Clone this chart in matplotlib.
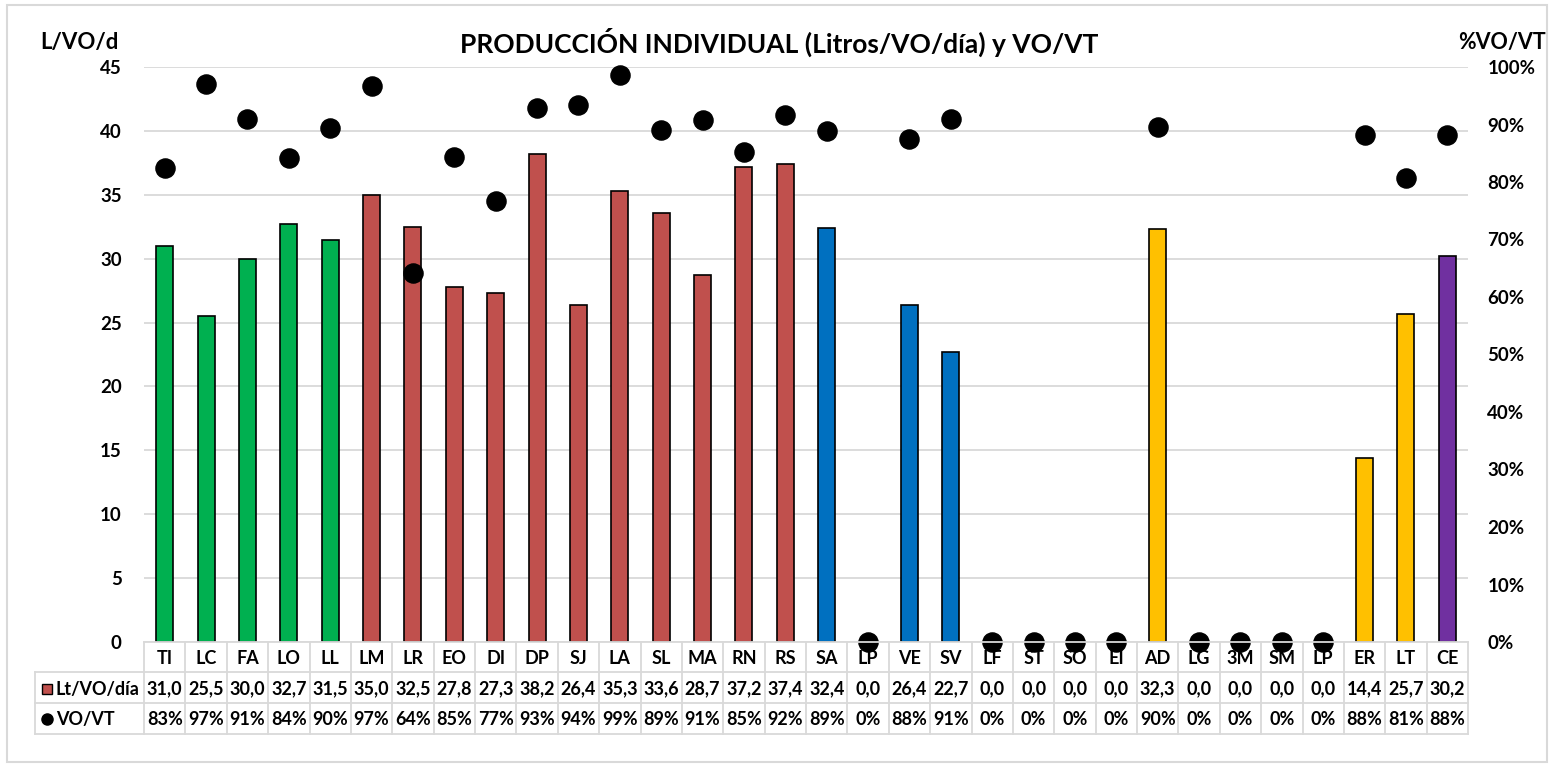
import matplotlib
matplotlib.use("Agg")
import matplotlib.pyplot as plt
from matplotlib.patches import Rectangle
from matplotlib.lines import Line2D
import numpy as np

categories = ["TI", "LC", "FA", "LO", "LL", "LM", "LR", "EO", "DI", "DP", "SJ", "LA", "SL", "MA",
              "RN", "RS", "SA", "LP", "VE", "SV", "LF", "ST", "SO", "EI", "AD", "LG", "3M", "SM",
              "LP", "ER", "LT", "CE"]
litros = [31.0, 25.5, 30.0, 32.7, 31.5, 35.0, 32.5, 27.8, 27.3, 38.2, 26.4, 35.3, 33.6, 28.7,
          37.2, 37.4, 32.4, 0.0, 26.4, 22.7, 0.0, 0.0, 0.0, 0.0, 32.3, 0.0, 0.0, 0.0,
          0.0, 14.4, 25.7, 30.2]
vo_vt = [0.824, 0.970, 0.910, 0.842, 0.894, 0.967, 0.642, 0.843, 0.767, 0.929, 0.934, 0.986,
         0.890, 0.908, 0.852, 0.917, 0.889, 0.0, 0.875, 0.910, 0.0, 0.0, 0.0, 0.0, 0.896,
         0.0, 0.0, 0.0, 0.0, 0.882, 0.807, 0.882]
vo_vt_labels = ["83%", "97%", "91%", "84%", "90%", "97%", "64%", "85%", "77%", "93%", "94%",
                "99%", "89%", "91%", "85%", "92%", "89%", "0%", "88%", "91%", "0%", "0%", "0%",
                "0%", "90%", "0%", "0%", "0%", "0%", "88%", "81%", "88%"]
groups = ["g"] * 5 + ["r"] * 11 + ["b"] * 4 + ["b"] * 4 + ["y"] + ["y"] * 4 + ["y", "y"] + ["p"]
palette = {"g": "#00B050", "r": "#C0504D", "b": "#0070C0", "y": "#FFC000", "p": "#7030A0"}
left_ticks = list(range(0, 50, 5))
right_ticks = [i / 10 for i in range(11)]

W, H = 1552, 770
FONT = "Lato"
plt.rcParams["font.family"] = [FONT, "DejaVu Sans"]
fig = plt.figure(figsize=(W / 100, H / 100), dpi=100)

def fx(px):
    return px / W

def fy(py):
    return 1 - py / H

ax_l, ax_r, ax_t, ax_b = 144, 1468, 67, 642
ax = fig.add_axes([fx(ax_l), fy(ax_b), fx(ax_r - ax_l), fy(ax_t) - fy(ax_b)])
n = len(categories)
x = np.arange(n)
ax.bar(x, litros, width=0.41, color=[palette[g] for g in groups], edgecolor="black",
       linewidth=1.2, zorder=3)
ax.set_xlim(-0.5, n - 0.5)
ax.set_ylim(0, 45)
ax.set_yticks(left_ticks)
ax.set_xticks([])
ax.grid(axis="y", color="#D9D9D9", linewidth=1.3, zorder=0)
for s in ax.spines.values():
    s.set_visible(False)
ax.tick_params(axis="y", length=0, pad=16, labelsize=13.5)
for lbl in ax.get_yticklabels():
    lbl.set_fontweight("bold")

ax2 = ax.twinx()
ax2.set_ylim(0, 1)
ax2.scatter(x, vo_vt, s=190, color="black", zorder=5, clip_on=False)
ax2.set_yticks(right_ticks)
ax2.set_yticklabels([f"{int(round(t * 100))}%" for t in right_ticks])
ax2.tick_params(axis="y", length=0, pad=14, labelsize=13.5)
for lbl in ax2.get_yticklabels():
    lbl.set_fontweight("bold")
for s in ax2.spines.values():
    s.set_visible(False)
ax2.set_xticks([])

# Titles
fig.text(fx(779), fy(42), "PRODUCCIÓN INDIVIDUAL (Litros/VO/día) y VO/VT", ha="center",
         va="center", fontsize=19, fontweight="bold")
fig.text(fx(79), fy(42), "L/VO/d", ha="center", va="center", fontsize=16, fontweight="bold")
fig.text(fx(1502), fy(42), "%VO/VT", ha="center", va="center", fontsize=15.5, fontweight="bold")

# Outer border
fig.add_artist(Rectangle((fx(7), fy(762)), fx(1547 - 7), fy(5) - fy(762), transform=fig.transFigure,
                         fill=False, edgecolor="#D9D9D9", linewidth=1.5))

# Data table
gc = "#D9D9D9"
rows = [642, 672, 703, 734]
col_w = (ax_r - ax_l) / n
tleft = 35

def hline(x0, x1, y):
    fig.add_artist(Line2D([fx(x0), fx(x1)], [fy(y), fy(y)], transform=fig.transFigure,
                          color=gc, linewidth=1.3))

def vline(xp, y0, y1):
    fig.add_artist(Line2D([fx(xp), fx(xp)], [fy(y0), fy(y1)], transform=fig.transFigure,
                          color=gc, linewidth=1.3))

hline(ax_l, ax_r, rows[0])
hline(tleft, ax_r, rows[1])
hline(tleft, ax_r, rows[2])
hline(tleft, ax_r, rows[3])
vline(tleft, rows[1], rows[3])
for i in range(n + 1):
    vline(ax_l + i * col_w, rows[0], rows[3])

for i in range(n):
    cx = ax_l + (i + 0.5) * col_w
    fig.text(fx(cx), fy((rows[0] + rows[1]) / 2 + 1), categories[i], ha="center", va="center",
             fontsize=13, fontweight="bold")
    fig.text(fx(cx), fy((rows[1] + rows[2]) / 2 + 1), f"{litros[i]:.1f}".replace(".", ","),
             ha="center", va="center", fontsize=13, fontweight="bold")
    fig.text(fx(cx), fy((rows[2] + rows[3]) / 2 + 1), vo_vt_labels[i], ha="center", va="center",
             fontsize=13, fontweight="bold")

# Legend keys
fig.add_artist(Rectangle((fx(42), fy(694)), fx(10), fy(684) - fy(694), transform=fig.transFigure,
                         facecolor="#C0504D", edgecolor="black", linewidth=1.0))
fig.text(fx(56), fy(689), "Lt/VO/día", ha="left", va="center", fontsize=13, fontweight="bold")
fig.add_artist(Line2D([fx(47)], [fy(719)], transform=fig.transFigure, marker="o",
                      markersize=8, color="black", linestyle="none"))
fig.text(fx(56), fy(719), "VO/VT", ha="left", va="center", fontsize=13, fontweight="bold")

fig.savefig("out.png", dpi=100)
